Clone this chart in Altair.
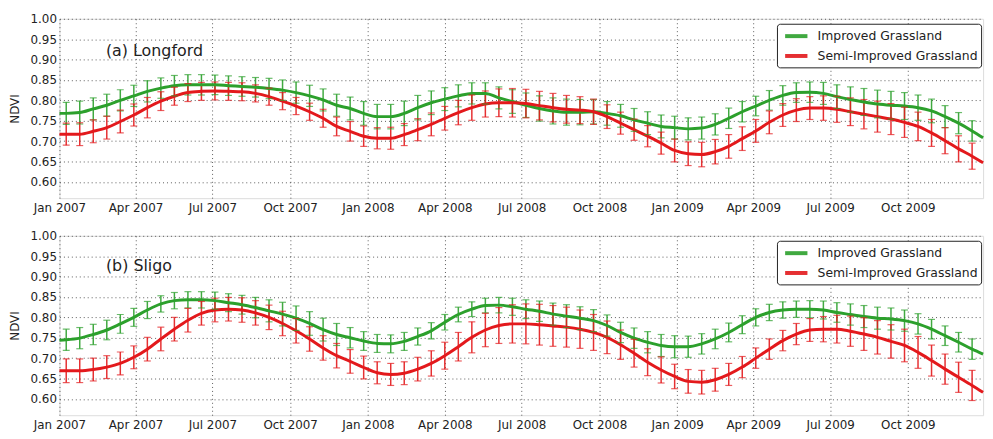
import altair as alt
import pandas as pd

# ---------------- data ----------------
COMPOSITE_START = "2007-01-09"   # first 16-day composite
N_COMPOSITES = 68
COMPOSITE_STEP = "16D"
LINE_START = "2007-01-01"
LINE_END = "2009-12-29"

SERIES = ["Improved Grassland", "Semi-Improved Grassland"]
COLORS = ["#2ca02c", "#e3191c"]

TICK_DATES = ["2007-01-01", "2007-04-01", "2007-07-01", "2007-10-01",
              "2008-01-01", "2008-04-01", "2008-07-01", "2008-10-01",
              "2009-01-01", "2009-04-01", "2009-07-01", "2009-10-01"]
Y_TICKS = [0.60, 0.65, 0.70, 0.75, 0.80, 0.85, 0.90, 0.95, 1.00]

# (a) Longford
LF_IMP = [0.768, 0.770, 0.779, 0.788, 0.800, 0.811, 0.822, 0.830, 0.836, 0.838, 0.838,
          0.838, 0.836, 0.834, 0.832, 0.829, 0.825, 0.819, 0.811, 0.801, 0.788,
          0.780, 0.768, 0.760, 0.760, 0.768, 0.782, 0.794, 0.803, 0.811, 0.817, 0.817,
          0.806, 0.797, 0.788, 0.780, 0.774, 0.771, 0.771, 0.772, 0.768, 0.762, 0.752,
          0.744, 0.736,
          0.733, 0.730, 0.732, 0.741, 0.756, 0.772, 0.786, 0.800, 0.812, 0.819, 0.820,
          0.817, 0.809, 0.802, 0.796, 0.791, 0.788, 0.786, 0.782, 0.774, 0.760, 0.744, 0.725]
LF_IMP_ERR = [0.027, 0.028, 0.027, 0.027, 0.026, 0.026, 0.026, 0.025, 0.025, 0.025, 0.025,
              0.024, 0.024, 0.024, 0.024, 0.025, 0.025, 0.026, 0.026, 0.027, 0.027,
              0.028, 0.029, 0.030, 0.030, 0.030, 0.030, 0.029, 0.028, 0.027, 0.026, 0.026,
              0.027, 0.029, 0.030, 0.031, 0.032, 0.032, 0.031, 0.030, 0.029, 0.028, 0.028,
              0.028, 0.028,
              0.028, 0.027, 0.027, 0.026, 0.025, 0.025, 0.024, 0.024, 0.024, 0.024, 0.025,
              0.027, 0.029, 0.031, 0.033, 0.034, 0.034, 0.033, 0.031, 0.029, 0.027, 0.026, 0.025]
LF_SEMI = [0.717, 0.717, 0.724, 0.733, 0.748, 0.764, 0.782, 0.798, 0.810, 0.819, 0.822,
           0.823, 0.822, 0.821, 0.817, 0.809, 0.798, 0.786, 0.772, 0.756, 0.736,
           0.724, 0.712, 0.707, 0.707, 0.716, 0.728, 0.741, 0.756, 0.770, 0.782, 0.791,
           0.794, 0.794, 0.792, 0.787, 0.782, 0.778, 0.776, 0.772, 0.760, 0.744, 0.728,
           0.712, 0.695,
           0.677, 0.669, 0.667, 0.674, 0.687, 0.706, 0.725, 0.746, 0.764, 0.776, 0.781,
           0.781, 0.778, 0.772, 0.766, 0.760, 0.754, 0.746, 0.736, 0.720, 0.701, 0.681, 0.663]
LF_SEMI_ERR = [0.027, 0.028, 0.028, 0.028, 0.028, 0.027, 0.025, 0.023, 0.022, 0.022, 0.022,
               0.022, 0.022, 0.022, 0.021, 0.021, 0.021, 0.021, 0.021, 0.022, 0.023,
               0.024, 0.025, 0.026, 0.027, 0.027, 0.027, 0.028, 0.029, 0.030, 0.031, 0.032,
               0.034, 0.035, 0.035, 0.035, 0.035, 0.034, 0.033, 0.031, 0.029, 0.027, 0.026,
               0.026, 0.027,
               0.028, 0.029, 0.030, 0.030, 0.029, 0.029, 0.028, 0.028, 0.028, 0.028, 0.028,
               0.030, 0.032, 0.034, 0.036, 0.038, 0.038, 0.037, 0.035, 0.033, 0.032, 0.032, 0.032]
LF_EDGES = {"Improved Grassland": (0.768, 0.708), "Semi-Improved Grassland": (0.717, 0.647)}

# (b) Sligo
SL_IMP = [0.745, 0.749, 0.758, 0.769, 0.784, 0.800, 0.818, 0.833, 0.841, 0.843, 0.843,
          0.841, 0.836, 0.831, 0.824, 0.816, 0.808, 0.798, 0.785, 0.770, 0.758,
          0.750, 0.742, 0.736, 0.735, 0.741, 0.753, 0.767, 0.788, 0.807, 0.820, 0.829,
          0.830, 0.826, 0.820, 0.815, 0.808, 0.803, 0.798, 0.792, 0.780, 0.763, 0.749,
          0.739, 0.731,
          0.728, 0.728, 0.735, 0.747, 0.763, 0.782, 0.800, 0.812, 0.818, 0.820, 0.820,
          0.818, 0.812, 0.807, 0.802, 0.798, 0.796, 0.792, 0.784, 0.771, 0.755, 0.739, 0.722]
SL_IMP_ERR = [0.026, 0.026, 0.025, 0.024, 0.023, 0.022, 0.021, 0.020, 0.020, 0.020, 0.020,
              0.021, 0.022, 0.023, 0.025, 0.027, 0.029, 0.030, 0.029, 0.028, 0.027,
              0.025, 0.023, 0.022, 0.022, 0.022, 0.021, 0.020, 0.019, 0.018, 0.018, 0.018,
              0.019, 0.021, 0.023, 0.025, 0.027, 0.028, 0.028, 0.027, 0.026, 0.025, 0.025,
              0.026, 0.027,
              0.027, 0.026, 0.025, 0.024, 0.023, 0.022, 0.021, 0.020, 0.020, 0.020, 0.021,
              0.022, 0.024, 0.026, 0.027, 0.027, 0.027, 0.026, 0.025, 0.024, 0.024, 0.024, 0.025]
SL_SEMI = [0.669, 0.669, 0.672, 0.678, 0.687, 0.702, 0.722, 0.747, 0.771, 0.793, 0.810,
           0.818, 0.820, 0.818, 0.811, 0.800, 0.785, 0.767, 0.747, 0.725, 0.706,
           0.692, 0.677, 0.664, 0.660, 0.663, 0.673, 0.687, 0.706, 0.728, 0.751, 0.769,
           0.780, 0.784, 0.784, 0.782, 0.779, 0.776, 0.771, 0.763, 0.751, 0.733, 0.712,
           0.690, 0.671,
           0.655, 0.643, 0.641, 0.647, 0.660, 0.678, 0.700, 0.722, 0.743, 0.759, 0.769,
           0.771, 0.771, 0.766, 0.759, 0.751, 0.741, 0.731, 0.714, 0.694, 0.673, 0.653, 0.633]
SL_SEMI_ERR = [0.029, 0.029, 0.028, 0.028, 0.028, 0.028, 0.029, 0.029, 0.029, 0.029, 0.029,
               0.029, 0.029, 0.030, 0.030, 0.030, 0.030, 0.030, 0.030, 0.030, 0.030,
               0.029, 0.028, 0.027, 0.027, 0.028, 0.029, 0.031, 0.033, 0.035, 0.038, 0.041,
               0.044, 0.047, 0.049, 0.050, 0.050, 0.049, 0.047, 0.044, 0.040, 0.036, 0.034,
               0.033, 0.032,
               0.030, 0.029, 0.029, 0.028, 0.027, 0.026, 0.025, 0.025, 0.025, 0.026, 0.028,
               0.031, 0.034, 0.037, 0.040, 0.041, 0.041, 0.040, 0.039, 0.038, 0.037, 0.037, 0.037]
SL_EDGES = {"Improved Grassland": (0.744, 0.710), "Semi-Improved Grassland": (0.669, 0.616)}

PANEL_LABELS = ["(a) Longford", "(b) Sligo"]
LABEL_DATE = "2007-02-25"
LABEL_Y = [0.922, 0.927]

# ---------------- chart ----------------
FONT = "DejaVu Sans"
DATES = pd.date_range(COMPOSITE_START, periods=N_COMPOSITES, freq=COMPOSITE_STEP)


def ms(s):
    return int(pd.Timestamp(s, tz="UTC").value // 10**6)


x_scale = alt.Scale(type="utc", domain=[ms(LINE_START), ms(LINE_END)])
x_axis = alt.Axis(values=[ms(t) for t in TICK_DATES],
                  labelExpr="utcFormat(datum.value, '%b %Y')",
                  labelOverlap=False, labelFlush=False,
                  title=None, labelPadding=4, ticks=False, domain=False,
                  grid=True, gridDash=[1, 3], gridColor="#333333", gridOpacity=0.8,
                  labelFontSize=12, labelFont=FONT, labelColor="#222222")
y_scale = alt.Scale(domain=[0.56, 1.0], nice=False, zero=False)
y_axis = alt.Axis(values=Y_TICKS, format=".2f", title="NDVI", titlePadding=9,
                  labelPadding=3, ticks=False, domain=False,
                  labelOverlap=False, labelFlush=False,
                  grid=True, gridDash=[1, 3], gridColor="#333333", gridOpacity=0.8,
                  labelFontSize=12, labelFont=FONT, labelColor="#222222",
                  titleFont=FONT, titleFontSize=12, titleFontWeight="normal",
                  titleColor="#222222")
c_scale = alt.Scale(domain=SERIES, range=COLORS)
legend = alt.Legend(title=None, orient="none", legendX=724, legendY=5,
                    symbolType="M-1.5,0H1.5", symbolStrokeWidth=4,
                    symbolSize=225, labelFontSize=12.5, labelLimit=300,
                    labelFont=FONT, labelColor="#222222",
                    symbolOffset=7, labelOffset=12, strokeColor="#222222",
                    fillColor="white", padding=3,
                    cornerRadius=3, rowPadding=2)
color = alt.Color("series:N", scale=c_scale, legend=legend)


def panel(label, label_y, imp, imp_err, semi, semi_err, edges):
    rows = []
    for name, vals, errs in ((SERIES[0], imp, imp_err), (SERIES[1], semi, semi_err)):
        for d, v, e in zip(DATES, vals, errs):
            rows.append({"date": d.strftime("%Y-%m-%d"), "series": name,
                         "ndvi": v, "lo": v - e, "hi": v + e})
    pts = pd.DataFrame(rows)
    edge_rows = []
    for name, (v0, v1) in edges.items():
        edge_rows.append({"date": LINE_START, "series": name, "ndvi": v0})
        edge_rows.append({"date": LINE_END, "series": name, "ndvi": v1})
    line_df = pd.concat([pd.DataFrame(edge_rows[0::2]), pts[["date", "series", "ndvi"]],
                         pd.DataFrame(edge_rows[1::2])], ignore_index=True)

    x = alt.X("date:T", scale=x_scale, axis=x_axis)

    rules = alt.Chart(pts).mark_rule(strokeWidth=1.5, opacity=0.9).encode(
        x=x,
        y=alt.Y("lo:Q", scale=y_scale, axis=y_axis),
        y2="hi:Q",
        color=color,
    )
    caps_lo = alt.Chart(pts).mark_tick(orient="horizontal", size=7, thickness=1.2,
                                       opacity=0.7).encode(
        x=x, y=alt.Y("lo:Q", scale=y_scale, axis=y_axis), color=color,
    )
    caps_hi = alt.Chart(pts).mark_tick(orient="horizontal", size=7, thickness=1.2,
                                       opacity=0.7).encode(
        x=x, y=alt.Y("hi:Q", scale=y_scale, axis=y_axis), color=color,
    )
    lines = alt.Chart(line_df).mark_line(strokeWidth=3, interpolate="monotone").encode(
        x=x,
        y=alt.Y("ndvi:Q", scale=y_scale, axis=y_axis),
        color=color,
        order=alt.Order("date:T"),
    )
    text = alt.Chart(pd.DataFrame({"date": [LABEL_DATE], "ndvi": [label_y],
                                   "label": [label]})).mark_text(
        align="left", baseline="middle", fontSize=16, font=FONT, color="#222222"
    ).encode(x=x, y=alt.Y("ndvi:Q", scale=y_scale, axis=y_axis), text="label:N")

    return alt.layer(rules, lines, caps_lo, caps_hi, text).properties(width=932, height=181)


top = panel(PANEL_LABELS[0], LABEL_Y[0], LF_IMP, LF_IMP_ERR, LF_SEMI, LF_SEMI_ERR, LF_EDGES)
bottom = panel(PANEL_LABELS[1], LABEL_Y[1], SL_IMP, SL_IMP_ERR, SL_SEMI, SL_SEMI_ERR, SL_EDGES)

chart = alt.vconcat(top, bottom, spacing=15).resolve_scale(color="independent").resolve_legend(
    color="independent").properties(
    padding={"left": 7, "top": 10, "right": 3, "bottom": 0}
).configure_view(stroke="#222222", strokeWidth=1).configure(background="white")

chart.save("out.html", embed_options={"renderer": "svg", "actions": False})
